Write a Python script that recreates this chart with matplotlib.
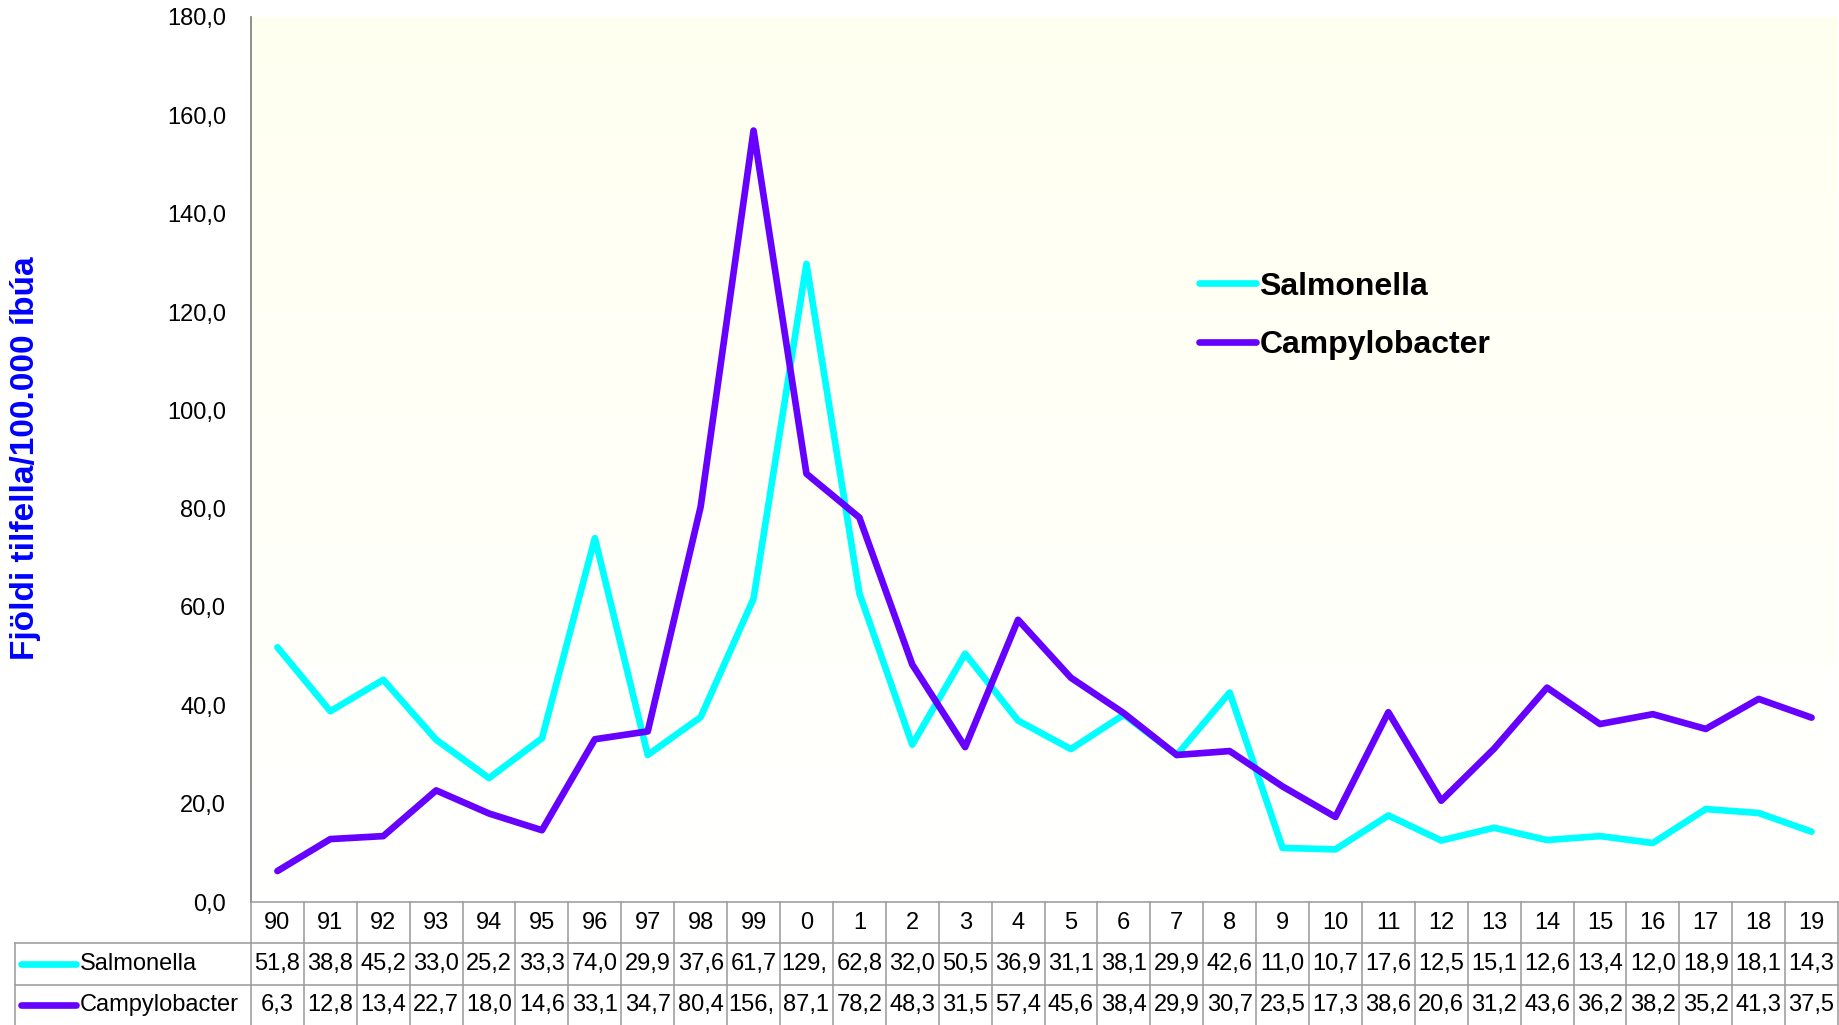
import matplotlib
matplotlib.use("Agg")
import matplotlib.pyplot as plt
import numpy as np
from matplotlib.lines import Line2D
from matplotlib.transforms import blended_transform_factory

plt.rcParams['font.family'] = ['Liberation Sans', 'DejaVu Sans']

years = ["90", "91", "92", "93", "94", "95", "96", "97", "98", "99",
         "0", "1", "2", "3", "4", "5", "6", "7", "8", "9",
         "10", "11", "12", "13", "14", "15", "16", "17", "18", "19"]
salmonella = [51.8, 38.8, 45.2, 33.0, 25.2, 33.3, 74.0, 29.9, 37.6, 61.7,
              129.8, 62.8, 32.0, 50.5, 36.9, 31.1, 38.1, 29.9, 42.6, 11.0,
              10.7, 17.6, 12.5, 15.1, 12.6, 13.4, 12.0, 18.9, 18.1, 14.3]
campylobacter = [6.3, 12.8, 13.4, 22.7, 18.0, 14.6, 33.1, 34.7, 80.4, 156.9,
                 87.1, 78.2, 48.3, 31.5, 57.4, 45.6, 38.4, 29.9, 30.7, 23.5,
                 17.3, 38.6, 20.6, 31.2, 43.6, 36.2, 38.2, 35.2, 41.3, 37.5]
series = [("Salmonella", salmonella, "#00FFFF"),
          ("Campylobacter", campylobacter, "#6600FF")]
ylabel = "Fjöldi tilfella/100.000 íbúa"

W, H = 1840, 1025
fig = plt.figure(figsize=(W / 100, H / 100), dpi=100)

ax_left, ax_right = 251, 1838
ax_top, ax_bottom = 17, 902
ax = fig.add_axes([ax_left / W, 1 - ax_bottom / H,
                   (ax_right - ax_left) / W, (ax_bottom - ax_top) / H])

x = np.arange(len(years))
ax.set_xlim(-0.5, len(years) - 0.5)
ax.set_ylim(0, 180)

# light ivory gradient background
grad = np.linspace(1, 0, 256).reshape(-1, 1)
top_c = np.array([255, 255, 240]) / 255
bot_c = np.array([255, 255, 255]) / 255
img = top_c * grad[..., None] + bot_c * (1 - grad[..., None])
ax.imshow(img, extent=[0, 1, 0, 1], transform=ax.transAxes,
          aspect='auto', zorder=0)

for name, vals, col in series:
    ax.plot(x, vals, color=col, lw=4.8, solid_capstyle='round',
            solid_joinstyle='round', label=name, zorder=3)

ax.set_yticks(np.arange(0, 181, 20))
ax.set_yticklabels([f"{v:.1f}".replace('.', ',') for v in np.arange(0, 181, 20)])
ax.tick_params(axis='y', length=0, pad=18, labelsize=17)
ax.set_xticks([])
for s in ['top', 'right', 'bottom']:
    ax.spines[s].set_visible(False)
ax.spines['left'].set_color('#868686')
ax.spines['left'].set_linewidth(1.3)

fig.text(26 / W, 1 - 458 / H, ylabel, rotation=90, ha='center', va='center',
         fontsize=24, fontweight='bold', color='#0000FF')

leg = ax.legend(loc='center left', bbox_to_anchor=(1170 / W, 1 - 316 / H),
                bbox_transform=fig.transFigure, frameon=False,
                prop={'size': 23, 'weight': 'bold'}, handlelength=1.8,
                handletextpad=0.1, labelspacing=0.9)

# data table below the axes
tr = blended_transform_factory(ax.transData, fig.transFigure)
grid_c = '#999999'
row_y = [902, 943, 985, 1025]
fy = lambda p: 1 - p / H
n = len(years)

fig.add_artist(Line2D([-0.5, n - 0.5], [fy(902), fy(902)], transform=tr,
                      color=grid_c, lw=1.1))
for yy in row_y[1:3]:
    fig.add_artist(Line2D([15 / W, 1838 / W], [fy(yy), fy(yy)],
                          transform=fig.transFigure, color=grid_c, lw=1.1))
fig.add_artist(Line2D([15 / W, 15 / W], [fy(943), fy(1025)],
                      transform=fig.transFigure, color=grid_c, lw=1.1))
for i in range(n + 1):
    fig.add_artist(Line2D([i - 0.5, i - 0.5], [fy(902), fy(1025)],
                          transform=tr, color=grid_c, lw=1.1))

for i, yr in enumerate(years):
    fig.text(i, fy(923), yr, transform=tr, ha='center', va='center',
             fontsize=17)

for r, (name, vals, col) in enumerate(series):
    yc = fy((row_y[r + 1] + row_y[r + 2]) / 2)
    fig.add_artist(Line2D([21 / W, 76 / W], [yc, yc],
                          transform=fig.transFigure, color=col, lw=4.8,
                          solid_capstyle='round'))
    fig.text(80 / W, yc, name, ha='left', va='center', fontsize=17)
    for i, v in enumerate(vals):
        s = f"{v:.1f}".replace('.', ',')
        if v >= 100:
            # too wide for the cell: shown cut off, like the spreadsheet does
            fig.text(i - 0.47, yc, s[:4], transform=tr, ha='left',
                     va='center', fontsize=17)
        else:
            fig.text(i, yc, s, transform=tr, ha='center', va='center',
                     fontsize=17)

fig.savefig("out.png", dpi=100)
